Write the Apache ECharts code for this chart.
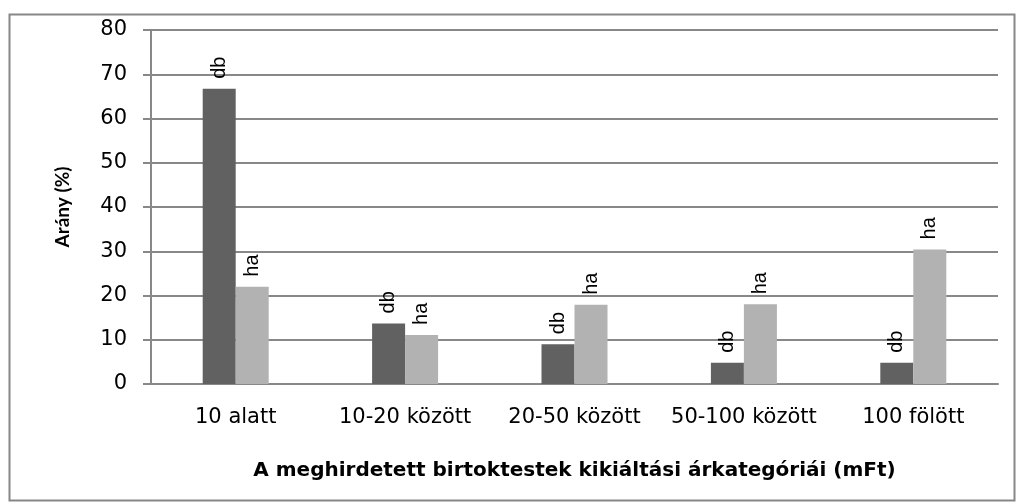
<!DOCTYPE html>
<html>
<head>
<meta charset="utf-8">
<script src="https://cdn.jsdelivr.net/npm/echarts@6/dist/echarts.min.js"></script>
<style>
  html, body { margin: 0; padding: 0; background: #fff; }
  #chart { width: 1022px; height: 504px; }
</style>
</head>
<body>
<div id="chart"></div>
<script>
const categories = ['10 alatt', '10-20 között', '20-50 között', '50-100 között', '100 fölött']
const dbValues = [66.7, 13.7, 9.0, 4.8, 4.8]
const haValues = [22.0, 11.1, 17.9, 18.0, 30.4]

const myChart = echarts.init(document.getElementById('chart'))

const barLabel = (text) => ({
  show: true,
  position: 'top',
  rotate: 90,
  align: 'left',
  verticalAlign: 'middle',
  distance: 10,
  formatter: text,
  color: '#000',
  fontFamily: 'Liberation Sans',
  fontSize: 20
})

const option = {
  animation: false,
  backgroundColor: '#fff',
  graphic: [{
    // keret a diagram körül
    type: 'rect',
    left: 7,
    top: 12,
    shape: { width: 1005, height: 486 },
    style: { fill: 'none', stroke: '#878787', lineWidth: 2 }
  }],
  grid: {
    left: 151,
    right: 24,
    top: 30,
    bottom: 120
  },
  xAxis: {
    type: 'category',
    data: categories,
    name: 'A meghirdetett birtoktestek kikiáltási árkategóriái (mFt)',
    nameLocation: 'middle',
    nameGap: 77,
    nameTextStyle: {
      fontFamily: 'DejaVu Sans',
      fontWeight: 'bold',
      fontSize: 20,
      color: '#000'
    },
    axisLine: { lineStyle: { color: '#888', width: 2 } },
    axisTick: { show: false },
    axisLabel: {
      interval: 0,
      margin: 23,
      color: '#000',
      fontFamily: 'DejaVu Sans',
      fontSize: 21
    }
  },
  yAxis: {
    type: 'value',
    min: 0,
    max: 80,
    interval: 10,
    name: 'Arány (%)',
    nameLocation: 'middle',
    nameGap: 79,
    nameTextStyle: {
      fontFamily: 'Lato',
      fontWeight: 'bold',
      fontSize: 19,
      color: '#000'
    },
    axisLine: { show: true, lineStyle: { color: '#888', width: 2 } },
    axisTick: { show: true, length: 8, lineStyle: { color: '#888', width: 2 } },
    axisLabel: {
      margin: 24,
      color: '#000',
      fontFamily: 'DejaVu Sans',
      fontSize: 21
    },
    splitLine: { lineStyle: { color: '#888', width: 2 } }
  },
  series: [
    {
      name: 'db',
      type: 'bar',
      data: dbValues,
      barWidth: 33,
      barGap: '0%',
      itemStyle: { color: '#616161' },
      label: barLabel('db')
    },
    {
      name: 'ha',
      type: 'bar',
      data: haValues,
      barWidth: 33,
      itemStyle: { color: '#b2b2b2' },
      label: barLabel('ha')
    }
  ]
}

option && myChart.setOption(option)
</script>
</body>
</html>
